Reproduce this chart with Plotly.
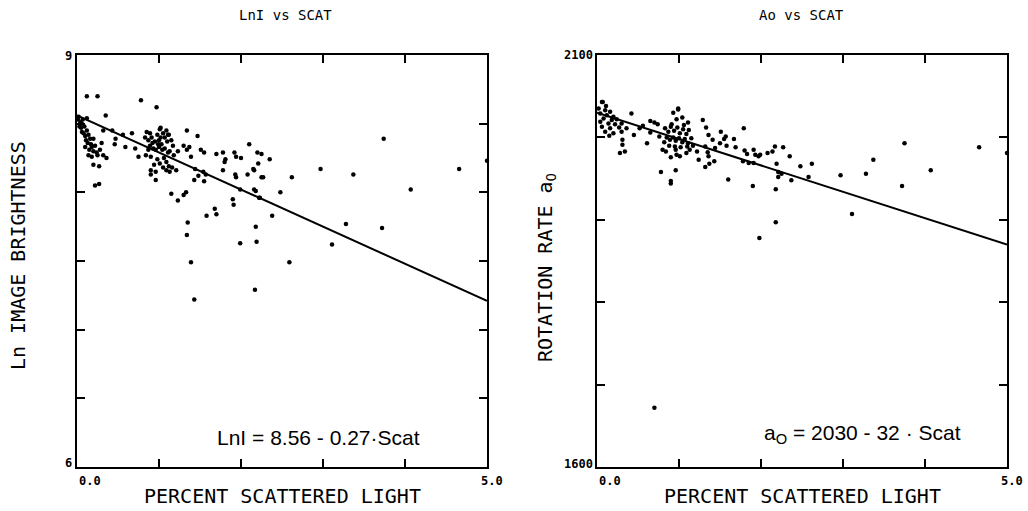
import plotly.graph_objects as go

# ---------------- data ----------------
# Left panel: Ln image brightness vs percent scattered light
lni_scat = [0.12, 0.25, 0.78, 0.97, 0.35, 0.12, 0.01, 0.04, 0.06, 0.09, 0.12, 0.06, 0.14, 0.10, 0.16,
            0.20, 0.13, 0.17, 0.22, 0.10, 0.15, 0.20, 0.14, 0.18, 0.25, 0.32, 0.36, 0.30, 0.20, 0.27,
            0.22, 0.27, 0.02, 0.07, 0.43, 0.47, 0.56, 0.67, 0.59, 0.71, 0.75, 0.46, 0.32, 0.89, 1.02,
            0.87, 0.89, 0.91, 0.95, 0.98, 1.00, 1.02, 1.05, 1.07, 1.10, 1.12, 1.15, 0.93, 0.96, 1.00,
            1.04, 1.07, 1.11, 0.87, 0.84, 0.90, 0.98, 1.01, 1.05, 1.09, 1.09, 1.12, 1.13, 1.16, 0.94,
            0.90, 0.96, 1.17, 1.18, 0.83, 0.85, 1.09, 0.90, 0.96, 1.01, 1.11,
            1.34, 1.47, 1.30, 1.37, 1.34, 1.23, 1.51, 1.55, 1.39, 1.70, 1.78, 1.81, 1.80, 1.92, 1.94,
            2.00, 2.10, 2.20, 2.25, 2.35, 1.78, 1.93, 1.94, 2.08, 2.16, 2.16, 2.22, 2.25, 1.44, 1.48,
            1.54, 1.57, 1.55, 1.43, 1.21, 1.15, 1.23, 1.30, 1.33, 1.35, 1.34, 1.39, 1.43, 1.58, 1.68,
            1.70, 1.90, 1.91, 1.99, 2.18, 2.19, 2.17, 2.18, 2.23, 2.38, 2.48, 2.59, 1.99, 2.15, 2.21,
            2.27, 2.62, 2.97, 3.11, 3.28, 3.37, 3.74, 3.72, 4.07, 4.66, 5.00,
            0.05, 0.08, 0.11, 0.03, 0.18, 0.24, 0.28, 0.92, 0.99, 1.03, 1.06, 1.13]
lni_val = [8.70, 8.70, 8.67, 8.62, 8.56, 8.54, 8.53, 8.51, 8.50, 8.48, 8.45, 8.44, 8.42, 8.41, 8.39,
           8.39, 8.36, 8.35, 8.34, 8.33, 8.31, 8.30, 8.27, 8.26, 8.27, 8.27, 8.25, 8.36, 8.20, 8.19,
           8.05, 8.06, 8.55, 8.53, 8.45, 8.39, 8.42, 8.43, 8.33, 8.32, 8.26, 8.35, 8.45, 8.43, 8.47,
           8.38, 8.34, 8.40, 8.37, 8.42, 8.38, 8.40, 8.43, 8.40, 8.37, 8.42, 8.38, 8.32, 8.31, 8.33,
           8.31, 8.32, 8.29, 8.31, 8.27, 8.26, 8.24, 8.21, 8.18, 8.22, 8.16, 8.19, 8.15, 8.18, 8.20,
           8.16, 8.15, 8.34, 8.27, 8.40, 8.44, 8.45, 8.13, 8.09, 8.46, 8.42,
           8.45, 8.41, 8.34, 8.33, 8.31, 8.30, 8.31, 8.29, 8.26, 8.28, 8.29, 8.24, 8.22, 8.29, 8.26,
           8.25, 8.35, 8.29, 8.28, 8.24, 8.16, 8.13, 8.11, 8.13, 8.16, 8.02, 7.96, 8.11, 8.17, 8.12,
           8.15, 8.13, 8.08, 8.09, 8.16, 7.99, 7.94, 7.98, 8.00, 7.78, 7.69, 7.49, 7.22, 7.83, 7.88,
           7.84, 7.95, 7.91, 7.63, 7.75, 7.64, 7.29, 8.01, 7.96, 7.83, 8.00, 7.49, 8.02, 8.17, 8.21,
           8.11, 8.11, 8.17, 7.62, 7.77, 8.13, 8.39, 7.74, 8.02, 8.17, 8.23,
           8.47, 8.43, 8.38, 8.48, 8.33, 8.29, 8.31, 8.36, 8.35, 8.35, 8.25, 8.30]

# Right panel: rotation rate a0 vs percent scattered light
ao_scat = [0.07, 0.11, 0.42, 0.28, 0.34, 0.31, 0.31, 0.36, 0.30, 0.45, 0.52, 0.56, 0.65, 0.70, 0.74,
           0.65, 0.76, 0.61, 0.93, 0.99, 0.97, 1.04, 1.11, 0.84, 0.90, 0.97, 1.01, 1.09, 0.96, 0.78,
           0.90, 0.90, 1.13, 1.22, 1.24, 1.29, 1.33, 1.36, 1.41, 1.44, 1.32, 1.35, 1.36, 1.32, 1.37,
           1.43, 1.51, 1.55, 1.57, 1.58, 1.50, 1.67, 1.69, 1.79, 1.80, 1.83, 1.91, 1.93, 1.97, 1.99,
           1.78, 1.85, 1.91, 1.60, 1.90, 2.08, 2.14, 2.17, 2.27, 2.35, 2.19, 2.21, 2.25, 2.21, 2.37,
           2.48, 2.58, 2.18, 1.98, 2.18, 0.70, 2.62, 2.97, 3.11, 3.28, 3.37, 3.75, 3.72, 4.07, 4.66,
           5.00,
           0.06, 0.02, 0.10, 0.16, 0.04, 0.12, 0.20, 0.08, 0.18, 0.24, 0.04, 0.14, 0.22, 0.06, 0.16,
           0.10, 0.20, 0.15, 0.27, 0.30,
           0.83, 0.87, 0.90, 0.94, 0.98, 1.01, 1.05, 1.09, 1.12, 0.85, 0.89, 0.93, 0.96, 1.00, 1.04,
           1.07, 1.11, 1.15, 0.88, 0.95, 1.02, 1.10, 0.82, 1.17, 0.91, 1.06, 0.96, 0.80, 0.99]
ao_val = [2043, 2038, 2029, 1981, 1983, 1997, 1991, 2011, 2007, 2003, 2011, 2014, 2020, 2018, 2016,
          2006, 2001, 1993, 2030, 2034, 2022, 2024, 2018, 1983, 1976, 1979, 1977, 1981, 1960, 1958,
          1947, 1944, 1985, 1983, 1973, 2021, 2012, 2003, 1997, 1987, 1989, 1982, 1977, 1964, 1968,
          1971, 2007, 1998, 2001, 1990, 1993, 1998, 1988, 2011, 1984, 1980, 1985, 1979, 1977, 1979,
          1971, 1969, 1969, 1949, 1941, 1981, 1983, 1989, 1988, 1977, 1968, 1958, 1956, 1952, 1948,
          1965, 1952, 1937, 1878, 1897, 1672, 1968, 1954, 1907, 1956, 1973, 1993, 1941, 1960, 1988,
          1981,
          2043, 2035, 2033, 2031, 2029, 2027, 2025, 2023, 2021, 2022, 2019, 2017, 2016, 2013, 2011,
          2007, 2005, 2002, 2012, 2017,
          2011, 2007, 2013, 2008, 2012, 2005, 2010, 2004, 2009, 2000, 1997, 2000, 1996, 1999, 1994,
          1998, 1993, 1999, 1990, 1989, 1988, 1989, 1994, 1990, 2016, 2015, 1985, 1985, 2035]

# Regression fits shown in the figure
fit_x = [0.0, 5.0]
lni_intercept, lni_slope = 8.56, -0.27
ao_intercept, ao_slope = 2030, -32

# Axis ranges
x_range = [0.0, 5.0]
lni_range = [6, 9]
ao_range = [1600, 2100]

W, H = 1028, 511


def px(x):
    return x / W


def py(y):
    return 1 - y / H


fig = go.Figure()

mk = dict(color="black", size=4.5)
fig.add_trace(go.Scatter(x=lni_scat, y=lni_val, mode="markers", marker=mk,
                         xaxis="x", yaxis="y", cliponaxis=False, showlegend=False))
fig.add_trace(go.Scatter(x=fit_x, y=[lni_intercept + lni_slope * v for v in fit_x], mode="lines",
                         line=dict(color="black", width=2), xaxis="x", yaxis="y", showlegend=False))
fig.add_trace(go.Scatter(x=ao_scat, y=ao_val, mode="markers", marker=mk,
                         xaxis="x2", yaxis="y2", cliponaxis=False, showlegend=False))
fig.add_trace(go.Scatter(x=fit_x, y=[ao_intercept + ao_slope * v for v in fit_x], mode="lines",
                         line=dict(color="black", width=2), xaxis="x2", yaxis="y2", showlegend=False))

ax_common = dict(showline=True, linecolor="black", linewidth=2, mirror="ticks",
                 ticks="inside", ticklen=8, tickwidth=2, tickcolor="black",
                 showticklabels=False, showgrid=False, zeroline=False)

yd = [py(467), py(55)]
fig.update_layout(
    width=W, height=H,
    margin=dict(l=0, r=0, t=0, b=0),
    paper_bgcolor="white", plot_bgcolor="white",
    xaxis=dict(domain=[px(77), px(487)], range=x_range, dtick=1, tick0=0, anchor="y", **ax_common),
    yaxis=dict(domain=yd, range=lni_range, dtick=0.5, tick0=6, anchor="x", **ax_common),
    xaxis2=dict(domain=[px(597), px(1007)], range=x_range, dtick=1, tick0=0, anchor="y2", **ax_common),
    yaxis2=dict(domain=yd, range=ao_range, dtick=100, tick0=1600, anchor="x2", **ax_common),
)

mono = "DejaVu Sans Mono"
ann = []


def add(text, x, y, size, family=mono, xanchor="center", yanchor="middle", angle=0, bold=False):
    if bold:
        text = "<b>" + text + "</b>"
    ann.append(dict(text=text, x=px(x), y=py(y), xref="paper", yref="paper", showarrow=False,
                    xanchor=xanchor, yanchor=yanchor, textangle=angle,
                    font=dict(family=family, size=size, color="black")))


# titles
add("LnI vs SCAT", 285, 15, 14)
add("Ao vs SCAT", 801, 15, 14)
# x titles
add("PERCENT SCATTERED LIGHT", 282, 496, 20)
add("PERCENT SCATTERED LIGHT", 802, 496, 20)
# y titles
add("Ln IMAGE BRIGHTNESS", 18, 256, 20, angle=-90)
add("ROTATION RATE a<sub>O</sub>", 546, 268, 20, angle=-90)
# end tick labels
add("9", 74, 56, 12, xanchor="right", bold=True)
add("6", 74, 463, 12, xanchor="right", bold=True)
add("0.0", 77, 481, 12, xanchor="left", bold=True)
add("5.0", 479, 481, 12, xanchor="left", bold=True)
add("2100", 595, 55, 12, xanchor="right", bold=True)
add("1600", 595, 464, 12, xanchor="right", bold=True)
add("0.0", 597, 481, 12, xanchor="left", bold=True)
add("5.0", 999, 481, 12, xanchor="left", bold=True)
# equations
add("LnI = 8.56 - 0.27·Scat", 318, 437, 21, family="Liberation Sans")
add("a<sub>O</sub> = 2030 - 32 · Scat", 862, 434, 21, family="Liberation Sans")

fig.update_layout(annotations=ann)
fig.write_html("out.html", config={"displayModeBar": False},
               post_script="document.body.style.margin='0';")
